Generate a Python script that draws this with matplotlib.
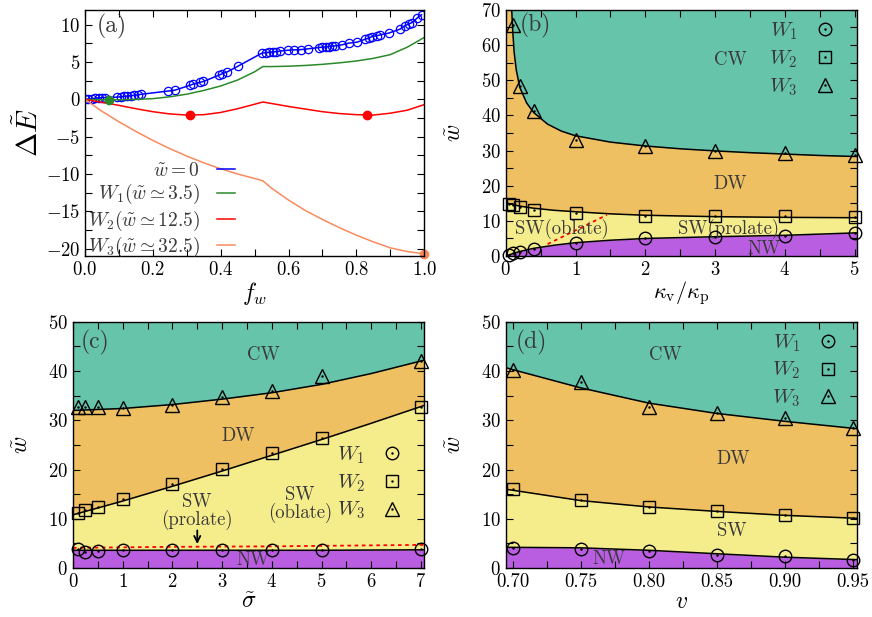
#%% Imports
import matplotlib
matplotlib.use('Agg')
import matplotlib.pyplot as plt
from matplotlib.lines import Line2D
from matplotlib.ticker import MultipleLocator
import numpy as np

plt.rcParams['font.family'] = 'cmr10'
plt.rcParams['mathtext.fontset'] = 'cm'
plt.rcParams['axes.formatter.use_mathtext'] = True
plt.rcParams['font.size'] = 11

#%% Data: panel (a), energy difference vs f_w
f_w0 = [0, 0.01, 0.02, 0.03, 0.04, 0.05, 0.06, 0.095, 0.105, 0.115, 0.125, 0.135,
        0.145, 0.155, 0.165, 0.245, 0.266, 0.31, 0.319, 0.34, 0.349, 0.395, 0.405,
        0.42, 0.452, 0.521, 0.533, 0.543, 0.553, 0.563, 0.574, 0.597, 0.617, 0.637,
        0.656, 0.689, 0.699, 0.709, 0.718, 0.728, 0.738, 0.757, 0.777, 0.802, 0.826,
        0.836, 0.846, 0.86, 0.87, 0.895, 0.929, 0.944, 0.954, 0.964, 0.979, 0.992]
E_w0 = [0, 0.05, 0.1, 0.15, 0.2, 0.22, 0.25, 0.3, 0.35, 0.4, 0.45, 0.5,
        0.55, 0.6, 0.68, 1.12, 1.25, 1.9, 2.05, 2.3, 2.4, 3.25, 3.45,
        3.7, 4.48, 6.19, 6.28, 6.32, 6.37, 6.41, 6.46, 6.59, 6.64, 6.68,
        6.77, 6.95, 7.0, 7.04, 7.09, 7.13, 7.18, 7.31, 7.54, 7.67, 8.07,
        8.2, 8.43, 8.52, 8.65, 8.88, 9.42, 9.9, 10.1, 10.3, 10.9, 11.35]

f_grid = [0, 0.05, 0.1, 0.15, 0.2, 0.25, 0.3, 0.35, 0.4, 0.45, 0.5, 0.524,
          0.55, 0.6, 0.65, 0.7, 0.75, 0.8, 0.85, 0.9, 0.95, 1.0]
E_W1 = [0, -0.05, -0.05, 0.0, 0.1, 0.35, 0.7, 1.2, 1.8, 2.6, 3.7, 4.4,
        4.4, 4.45, 4.55, 4.7, 4.9, 5.15, 5.5, 6.0, 7.0, 8.3]
E_W2 = [0, -0.4, -0.8, -1.25, -1.65, -1.95, -2.1, -2.05, -1.75, -1.25, -0.65, -0.35,
        -0.55, -0.95, -1.3, -1.65, -1.9, -2.05, -2.1, -1.85, -1.45, -0.7]
E_W3 = [0, -1.6, -3.0, -4.3, -5.5, -6.6, -7.6, -8.5, -9.3, -10.0, -10.6, -10.9,
        -11.9, -13.5, -14.9, -16.1, -17.2, -18.2, -19.1, -19.9, -20.4, -20.7]
dot_W1 = (0.072, -0.05)
dot_W2 = ([0.31, 0.83], [-2.1, -2.1])
dot_W3 = (1.0, -20.7)

#%% Data: panel (b), w vs kappa_v/kappa_p
kb_W1 = [0.05, 0.1, 0.2, 0.4, 1, 2, 3, 4, 5]
wb_W1 = [0.3, 0.8, 1.2, 1.9, 3.6, 5.2, 5.3, 5.75, 6.6]
kb_W2 = [0.05, 0.1, 0.2, 0.4, 1, 2, 3, 4, 5]
wb_W2 = [14.9, 14.4, 13.9, 13.2, 12.3, 11.5, 11.3, 11.3, 11.2]
kb_W3 = [0.1, 0.2, 0.4, 1, 2, 3, 4, 5]
wb_W3 = [65.7, 48.4, 41.2, 33.1, 31.4, 30.0, 29.2, 28.6]
kb_cw = [0.085, 0.1, 0.12, 0.15, 0.2, 0.3, 0.4, 0.6, 0.8, 1.0, 1.5, 2.0, 2.5, 3.0,
         3.5, 4.0, 4.5, 5.03]
wb_cw = [70, 64, 58, 53, 48, 43.5, 40.8, 37.5, 35.5, 34.2, 32.4, 31.3, 30.5, 29.9,
         29.4, 29.0, 28.6, 28.3]
kb_ds = [0, 0.2, 0.4, 0.7, 1.0, 1.5, 2, 3, 4, 5.03]
wb_ds = [15.1, 14.2, 13.6, 13.0, 12.6, 12.0, 11.6, 11.2, 11.0, 10.9]
kb_sn = [0, 0.1, 0.2, 0.4, 0.7, 1.0, 1.5, 2, 3, 4, 5.03]
wb_sn = [0, 0.7, 1.3, 2.2, 3.1, 3.8, 4.5, 5.0, 5.5, 5.9, 6.6]
kb_red = [0.6, 1.45]
wb_red = [3.4, 11.7]

#%% Data: panel (c), w vs sigma
sc = [0.1, 0.25, 0.5, 1, 2, 3, 4, 5, 7]
wc_W1 = [3.8, 3.3, 3.55, 3.6, 3.6, 3.6, 3.6, 3.7, 3.9]
wc_W2 = [11.2, 11.7, 12.4, 14.0, 17.1, 20.2, 23.3, 26.4, 32.8]
wc_W3 = [32.7, 32.7, 32.7, 32.5, 33.2, 34.8, 35.9, 39.0, 42.0]
sc_line = [0, 1, 2, 3, 4, 5, 6, 7.06]
wc_cw = [32.0, 32.4, 33.2, 34.3, 35.6, 37.3, 39.5, 42.2]
wc_ds = [10.8, 13.6, 16.6, 19.7, 22.9, 26.1, 29.4, 33.0]
wc_sn = [3.6, 3.6, 3.6, 3.6, 3.6, 3.6, 3.65, 3.7]
wc_red = [4.1, 4.2, 4.3, 4.35, 4.4, 4.5, 4.6, 4.7]

#%% Data: panel (d), w vs v
vd = [0.70, 0.75, 0.80, 0.85, 0.90, 0.95]
wd_W1 = [4.1, 3.9, 3.5, 2.7, 2.4, 1.7]
wd_W2 = [16.0, 13.9, 12.4, 11.6, 10.7, 10.2]
wd_W3 = [40.3, 37.8, 32.7, 31.4, 30.5, 28.4]
vd_line = [0.695, 0.70, 0.75, 0.80, 0.85, 0.90, 0.953]
wd_cw = [40.7, 40.3, 36.6, 33.5, 31.4, 29.8, 28.3]
wd_ds = [16.0, 15.8, 13.7, 12.4, 11.5, 10.7, 10.1]
wd_sn = [4.2, 4.2, 4.1, 3.6, 2.9, 2.2, 1.7]

CW_C = '#66c4aa'
DW_C = '#eec062'
SW_C = '#f5ec8c'
NW_C = '#b95ee0'
TXT = '#3a3a3a'


#%% Helpers
def style_axes(ax, xmaj, xmin, ymaj, ymin):
    ax.xaxis.set_major_locator(MultipleLocator(xmaj))
    ax.xaxis.set_minor_locator(MultipleLocator(xmin))
    ax.yaxis.set_major_locator(MultipleLocator(ymaj))
    ax.yaxis.set_minor_locator(MultipleLocator(ymin))
    ax.tick_params(which='both', direction='in', top=True, right=True,
                   length=5, width=0.8, labelsize=13.5)
    for s in ax.spines.values():
        s.set_linewidth(1.0)


def phase_regions(ax, x_cw, y_cw, x_ds, y_ds, x_sn, y_sn, ymax):
    ax.set_facecolor(DW_C)
    ax.fill_between(x_cw, y_cw, ymax, color=CW_C, lw=0)
    ax.fill_between(x_ds, 0, y_ds, color=SW_C, lw=0)
    ax.fill_between(x_sn, 0, y_sn, color=NW_C, lw=0)
    for xx, yy in [(x_cw, y_cw), (x_ds, y_ds), (x_sn, y_sn)]:
        ax.plot(xx, yy, color='k', lw=1.1)


def add_points(ax, x, y, marker, ms):
    ax.plot(x, y, ls='none', marker=marker, mfc='none', mec='k', ms=ms,
            mew=1.0, clip_on=False, zorder=5)
    ax.plot(x, y, ls='none', marker='.', ms=1.5, color='k', clip_on=False, zorder=5)


def w_legend(ax, **kw):
    handles = []
    for m, ms in [('o', 9), ('s', 9), ('^', 10)]:
        h1 = Line2D([], [], ls='none', marker=m, mfc='none', mec='k', ms=ms, mew=1.0)
        h2 = Line2D([], [], ls='none', marker='.', ms=1.5, color='k')
        handles.append((h1, h2))
    labels = ['$W_1$', '$W_2$', '$W_3$']
    leg = ax.legend(handles, labels, frameon=False, markerfirst=False,
                    fontsize=15, handlelength=1.4, handletextpad=0.6,
                    labelspacing=0.3, borderaxespad=0, **kw)
    for t in leg.get_texts():
        t.set_color(TXT)
    return leg


fig = plt.figure(figsize=(8.72, 6.17), dpi=100)
ax_a = fig.add_axes([0.0975, 0.585, 0.389, 0.399])
ax_b = fig.add_axes([0.580, 0.585, 0.4025, 0.399])
ax_c = fig.add_axes([0.0837, 0.0794, 0.4025, 0.399])
ax_d = fig.add_axes([0.580, 0.0794, 0.4025, 0.399])

#%% Panel (a)
ax_a.plot(f_w0, E_w0, color='blue', lw=1.1, marker='o', mfc='none', mec='blue',
          ms=6, mew=0.9)
ax_a.plot(f_grid, E_W1, color='#2a8a2a', lw=1.1)
ax_a.plot(f_grid, E_W2, color='red', lw=1.1)
ax_a.plot(f_grid, E_W3, color='#f98a5e', lw=1.1)
ax_a.plot(*dot_W1, 'o', color='#2a8a2a', ms=6)
ax_a.plot(*dot_W2, 'o', color='red', ms=6)
ax_a.plot(*dot_W3, 'o', color='#f98a5e', ms=6, clip_on=False)
ax_a.set_xlim(0, 1)
ax_a.set_ylim(-21, 12)
style_axes(ax_a, 0.2, 0.1, 5, 2.5)
handles_a = [Line2D([], [], color=c, lw=1.1) for c in ['blue', '#2a8a2a', 'red', '#f98a5e']]
labels_a = [r'$\tilde{w}=0$', r'$W_1(\tilde{w}\simeq3.5)$',
            r'$W_2(\tilde{w}\simeq12.5)$', r'$W_3(\tilde{w}\simeq32.5)$']
leg_a = ax_a.legend(handles_a, labels_a, frameon=False, markerfirst=False,
                    fontsize=14, loc='lower right', bbox_to_anchor=(0.465, -0.045),
                    handlelength=0.95, labelspacing=0.12, handletextpad=0.85,
                    borderaxespad=0)
for t in leg_a.get_texts():
    t.set_color(TXT)
ax_a.text(0.035, 9.8, '(a)', fontsize=17, color=TXT, va='center')
ax_a.set_xlabel('$f_w$', fontsize=17, labelpad=1)
ax_a.set_ylabel(r'$\Delta\tilde{E}$', fontsize=21, labelpad=1)

#%% Panel (b)
phase_regions(ax_b, kb_cw, wb_cw, kb_ds, wb_ds, kb_sn, wb_sn, 70)
ax_b.plot(kb_red, wb_red, color='red', ls=(0, (2, 2)), lw=1.3)
add_points(ax_b, kb_W1, wb_W1, 'o', 9)
add_points(ax_b, kb_W2, wb_W2, 's', 9)
add_points(ax_b, kb_W3, wb_W3, '^', 10)
ax_b.set_xlim(0, 5.03)
ax_b.set_ylim(0, 70)
style_axes(ax_b, 1, 0.5, 10, 5)
w_legend(ax_b, loc='upper right', bbox_to_anchor=(0.974, 0.99))
ax_b.text(0.43, 65.7, '(b)', fontsize=17, color=TXT, ha='center', va='center')
ax_b.text(3.22, 55.6, 'CW', fontsize=13.5, color=TXT, ha='center', va='center')
ax_b.text(3.22, 20.6, 'DW', fontsize=13.5, color=TXT, ha='center', va='center')
ax_b.text(0.81, 7.7, 'SW(oblate)', fontsize=13.5, color=TXT, ha='center', va='center')
ax_b.text(3.2, 7.7, 'SW(prolate)', fontsize=13.5, color=TXT, ha='center', va='center')
ax_b.text(3.7, 1.9, 'NW', fontsize=13.5, color=TXT, ha='center', va='center')
ax_b.set_xlabel(r'$\kappa_{\rm v}/\kappa_{\rm p}$', fontsize=16, labelpad=0)
ax_b.set_ylabel(r'$\tilde{w}$', fontsize=17, labelpad=11)

#%% Panel (c)
phase_regions(ax_c, sc_line, wc_cw, sc_line, wc_ds, sc_line, wc_sn, 50)
ax_c.plot(sc_line, wc_red, color='red', ls=(0, (2, 2)), lw=1.3)
add_points(ax_c, sc, wc_W1, 'o', 9)
add_points(ax_c, sc, wc_W2, 's', 9)
add_points(ax_c, sc, wc_W3, '^', 10)
ax_c.set_xlim(0, 7.06)
ax_c.set_ylim(0, 50)
style_axes(ax_c, 1, 0.5, 10, 5)
w_legend(ax_c, loc='center right', bbox_to_anchor=(0.974, 0.346))
ax_c.text(0.45, 45.9, '(c)', fontsize=17, color=TXT, ha='center', va='center')
ax_c.text(3.83, 43.2, 'CW', fontsize=13.5, color=TXT, ha='center', va='center')
ax_c.text(3.33, 26.9, 'DW', fontsize=13.5, color=TXT, ha='center', va='center')
ax_c.text(2.49, 11.5, 'SW\n(prolate)', fontsize=13.5, color=TXT, ha='center',
          va='center', linespacing=0.95)
ax_c.text(4.57, 12.9, 'SW\n(oblate)', fontsize=13.5, color=TXT, ha='center',
          va='center', linespacing=0.95)
ax_c.text(3.63, 1.7, 'NW', fontsize=13.5, color=TXT, ha='center', va='center')
ax_c.annotate('', xy=(2.5, 4.3), xytext=(2.5, 8.2),
              arrowprops=dict(arrowstyle='->', color='k', lw=1.3))
ax_c.set_xlabel(r'$\tilde{\sigma}$', fontsize=17, labelpad=0)
ax_c.set_ylabel(r'$\tilde{w}$', fontsize=17, labelpad=11)

#%% Panel (d)
phase_regions(ax_d, vd_line, wd_cw, vd_line, wd_ds, vd_line, wd_sn, 50)
add_points(ax_d, vd, wd_W1, 'o', 9)
add_points(ax_d, vd, wd_W2, 's', 9)
add_points(ax_d, vd, wd_W3, '^', 10)
ax_d.set_xlim(0.695, 0.953)
ax_d.set_ylim(0, 50)
style_axes(ax_d, 0.05, 0.025, 10, 5)
ax_d.xaxis.set_major_formatter(plt.FormatStrFormatter('%.2f'))
w_legend(ax_d, loc='upper right', bbox_to_anchor=(0.983, 0.992))
ax_d.text(0.714, 45.9, '(d)', fontsize=17, color=TXT, ha='center', va='center')
ax_d.text(0.8125, 43.2, 'CW', fontsize=13.5, color=TXT, ha='center', va='center')
ax_d.text(0.862, 22.1, 'DW', fontsize=13.5, color=TXT, ha='center', va='center')
ax_d.text(0.861, 7.5, 'SW', fontsize=13.5, color=TXT, ha='center', va='center')
ax_d.text(0.771, 1.9, 'NW', fontsize=13.5, color=TXT, ha='center', va='center')
ax_d.set_xlabel('$v$', fontsize=17, labelpad=0)
ax_d.set_ylabel(r'$\tilde{w}$', fontsize=17, labelpad=11)

fig.savefig('out.png', dpi=100)
